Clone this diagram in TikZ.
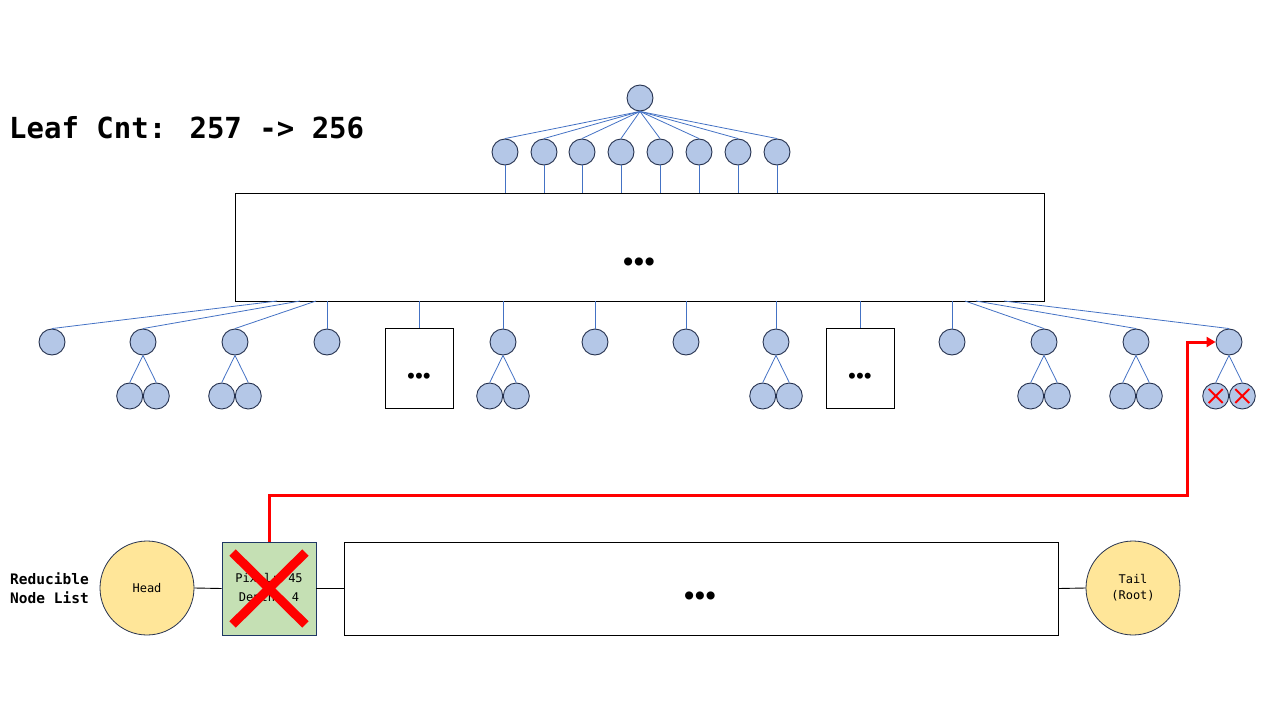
\documentclass[tikz,border=0pt]{standalone}
\usepackage{fontspec}
\setmainfont{DejaVu Sans}
\newfontfamily\mono{DejaVu Sans Mono}
\usetikzlibrary{arrows.meta,calc}
\definecolor{cfill}{HTML}{B4C7E7}
\definecolor{cdraw}{HTML}{26324F}
\definecolor{clink}{HTML}{4472C4}
\definecolor{yel}{HTML}{FFE699}
\definecolor{grn}{HTML}{C5E0B4}
\definecolor{navy}{HTML}{1F3864}
\tikzset{
  tn/.style={circle,draw=cdraw,fill=cfill,minimum size=26pt,inner sep=0pt,line width=0.9pt},
  link/.style={draw=clink,line width=0.8pt},
  blk/.style={draw=black,line width=0.9pt,inner sep=0pt},
  xmark/.style={draw=red,line width=2pt},
  listc/.style={circle,draw=cdraw,fill=yel,minimum size=94pt,inner sep=0pt,line width=0.8pt,font=\mono\fontsize{12}{16}\selectfont,align=center},
  dots/.style={font=\bfseries\fontsize{#1}{#1}\selectfont},
}
\newcommand{\dotsrow}[1]{•\kern-#1•\kern-#1•}
\begin{document}
\begin{tikzpicture}[x=1pt,y=-1pt]
\useasboundingbox (0,0) rectangle (1280,720);
% title
\node[anchor=west,inner sep=0pt,font=\mono\bfseries\fontsize{29}{29}\selectfont] (title) at (9,128) {Leaf Cnt: 257 -> 256};
% root
\node[tn] (r) at (640,98) {};
\foreach \i/\x in {1/505,2/544,3/582,4/621,5/660,6/699,7/738,8/777}{
  \node[tn] (u\i) at (\x,152) {};
}
% big box
\node[blk,minimum width=809pt,minimum height=108pt] (B) at (639.5,247) {};
\node[dots=23] (Bd) at (639,264) {\dotsrow{4pt}};
\foreach \i in {1,...,8}{
  \draw[link] (r.south) -- (u\i.north);
  \draw[link] (u\i.south) -- (u\i.south |- B.north);
}
% lower row
\foreach \n/\x in {l1/52,l2/143,l3/235,l4/327,l5/503,l6/595,l7/686,l8/776,l9/952,l10/1044,l11/1136,l12/1229}{
  \node[tn] (\n) at (\x,342) {};
}
\node[blk,minimum width=68pt,minimum height=80pt] (b1) at (419,368) {};
\node[dots=17] (b1d) at (419,378) {\dotsrow{3pt}};
\node[blk,minimum width=68pt,minimum height=80pt] (b2) at (860,368) {};
\node[dots=17] (b2d) at (860,378) {\dotsrow{3pt}};
% attach points
\coordinate (a1) at (277,301);
\coordinate (a2) at (300,301);
\coordinate (a3) at (316,301);
\coordinate (a10) at (965,301);
\coordinate (a11) at (976,301);
\coordinate (a12) at (1004,301);
\draw[link] (a1) -- (l1.north);
\draw[link] (a2) -- (l2.north);
\draw[link] (a3) -- (l3.north);
\draw[link] (a10) -- (l10.north);
\draw[link] (a11) -- (l11.north);
\draw[link] (a12) -- (l12.north);
\foreach \n in {l4,l5,l6,l7,l8,l9,b1,b2}{
  \draw[link] (\n.north) -- (\n.north |- B.south);
}
% children
\foreach \p in {l2,l3,l5,l8,l10,l11,l12}{
  \node[tn] (\p a) at ($(\p)+(-13.3,54)$) {};
  \node[tn] (\p b) at ($(\p)+(13.3,54)$) {};
  \draw[link] (\p.south) -- (\p a.north);
  \draw[link] (\p.south) -- (\p b.north);
}
\foreach \c in {l12a,l12b}{
  \draw[xmark] ($(\c)+(-7,-7)$) -- ($(\c)+(7,7)$);
  \draw[xmark] ($(\c)+(7,-7)$) -- ($(\c)+(-7,7)$);
}
% bottom list
\node[anchor=west,align=left,inner sep=0pt,font=\mono\bfseries\fontsize{14.5}{19}\selectfont] (lbl) at (10,588.5) {Reducible\\Node List};
\node[listc] (head) at (147,588) {Head};
\node[draw=navy,fill=grn,line width=0.8pt,minimum width=94pt,minimum height=93pt,inner sep=0pt,align=center,font=\mono\fontsize{12}{19}\selectfont] (g) at (269,588.5) {Pixel: 45\\Depth: 4};
\node[blk,minimum width=714pt,minimum height=93pt] (L) at (701,588.5) {};
\node[dots=23] (Ld) at (700,598) {\dotsrow{4pt}};
\node[listc] (tail) at (1133,588) {Tail\\(Root)};
\draw[black,line width=0.9pt] (head.east) -- (g.west);
\draw[black,line width=0.9pt] (g.east) -- (L.west);
\draw[black,line width=0.9pt] (L.east) -- (tail.west);
% big X
\draw[red,line width=9pt] ($(g.north west)+(11,11)$) -- ($(g.south east)+(-11,-11)$);
\draw[red,line width=9pt] ($(g.north east)+(-11,11)$) -- ($(g.south west)+(11,-11)$);
% red connector
\coordinate (c1) at (1187,495);
\draw[red,line width=3pt,-{Triangle[length=9pt,width=10pt]}] (g.north) |- (c1) |- (l12.west);
\end{tikzpicture}
\end{document}
